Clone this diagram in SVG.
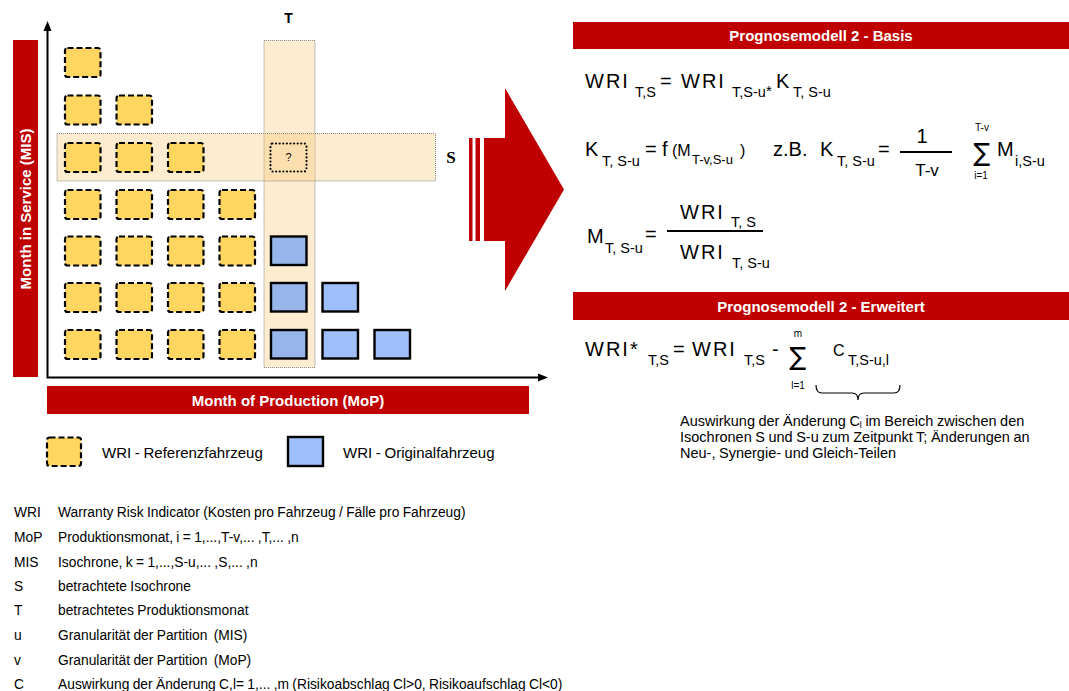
<svg xmlns="http://www.w3.org/2000/svg" width="1069" height="691" viewBox="0 0 1069 691">
  <style>
    text { font-family: "Liberation Sans", Arial, sans-serif; fill: #000; }
    .bar { fill: #C00000; }
    .barText { font-size: 15px; font-weight: bold; fill: #fff; }
    .ref { fill: #FFD760; stroke: #000; stroke-width: 2.2; stroke-dasharray: 6 3; }
    .orig { fill: #9EBFFA; stroke: #000; stroke-width: 2.4; }
    .origT { fill: #97B5EA; }
    .hl { fill: #F9C46E; fill-opacity: 0.33; stroke: #888; stroke-width: 1; stroke-dasharray: 1 1; }
    .axis { stroke: #000; stroke-width: 2; fill: none; }
    .m { font-size: 20px; }
    .w { letter-spacing: 2px; }
    .s { font-size: 14.5px; }
    .sum { font-family: "DejaVu Sans", sans-serif; font-size: 25px; }
    .lim { font-size: 10px; }
    .frac { stroke: #000; stroke-width: 2; }
    .note { font-size: 14.5px; word-spacing: -0.5px; }
    .leg { font-size: 15px; word-spacing: -0.5px; }
    .lst { font-size: 13.8px; word-spacing: -0.5px; }
  </style>

  <!-- axis captions -->
  <g id="axis-mis">
    <rect class="bar" x="13" y="40" width="25" height="337"/>
    <text class="barText" transform="translate(31,209) rotate(-90)" text-anchor="middle">Month in Service (MIS)</text>
  </g>
  <g id="axis-mop">
    <rect class="bar" x="47" y="386" width="482" height="28"/>
    <text class="barText" x="288" y="405.5" text-anchor="middle">Month of Production (MoP)</text>
  </g>

  <!-- highlighted production month T and isochrone S -->
  <g id="band-T">
    <rect class="hl" x="264" y="40.5" width="51" height="327"/>
    <text x="288.5" y="23" font-size="14" font-weight="bold" text-anchor="middle">T</text>
  </g>
  <g id="band-S">
    <rect class="hl" x="57" y="133.5" width="378.5" height="47.5"/>
    <text x="451" y="163" font-size="17" font-weight="bold" text-anchor="middle" style="font-family:'Liberation Serif','Times New Roman',serif">S</text>
  </g>

  <!-- axes -->
  <g id="axes">
    <path class="axis" d="M47.5,378 V30 M46.5,377.5 H540"/>
    <path d="M47.5,21 L43.5,31 L51.5,31 Z M548,377.5 L538,373.5 L538,381.5 Z" fill="#000"/>
  </g>

  <!-- reference vehicle cells -->
  <g id="ref-r1-c1"><rect class="ref" x="65" y="48" width="35.5" height="29" rx="2.5"/></g>
  <g id="ref-r2-c1"><rect class="ref" x="65" y="95.5" width="35.5" height="29" rx="2.5"/></g>
  <g id="ref-r2-c2"><rect class="ref" x="116.5" y="95.5" width="35.5" height="29" rx="2.5"/></g>
  <g id="ref-r3-c1"><rect class="ref" x="65" y="143" width="35.5" height="29" rx="2.5"/></g>
  <g id="ref-r3-c2"><rect class="ref" x="116.5" y="143" width="35.5" height="29" rx="2.5"/></g>
  <g id="ref-r3-c3"><rect class="ref" x="168" y="143" width="35.5" height="29" rx="2.5"/></g>
  <g id="ref-r4-c1"><rect class="ref" x="65" y="190" width="35.5" height="29" rx="2.5"/></g>
  <g id="ref-r4-c2"><rect class="ref" x="116.5" y="190" width="35.5" height="29" rx="2.5"/></g>
  <g id="ref-r4-c3"><rect class="ref" x="168" y="190" width="35.5" height="29" rx="2.5"/></g>
  <g id="ref-r4-c4"><rect class="ref" x="219.5" y="190" width="35.5" height="29" rx="2.5"/></g>
  <g id="ref-r5-c1"><rect class="ref" x="65" y="236.5" width="35.5" height="29" rx="2.5"/></g>
  <g id="ref-r5-c2"><rect class="ref" x="116.5" y="236.5" width="35.5" height="29" rx="2.5"/></g>
  <g id="ref-r5-c3"><rect class="ref" x="168" y="236.5" width="35.5" height="29" rx="2.5"/></g>
  <g id="ref-r5-c4"><rect class="ref" x="219.5" y="236.5" width="35.5" height="29" rx="2.5"/></g>
  <g id="ref-r6-c1"><rect class="ref" x="65" y="283" width="35.5" height="29" rx="2.5"/></g>
  <g id="ref-r6-c2"><rect class="ref" x="116.5" y="283" width="35.5" height="29" rx="2.5"/></g>
  <g id="ref-r6-c3"><rect class="ref" x="168" y="283" width="35.5" height="29" rx="2.5"/></g>
  <g id="ref-r6-c4"><rect class="ref" x="219.5" y="283" width="35.5" height="29" rx="2.5"/></g>
  <g id="ref-r7-c1"><rect class="ref" x="65" y="330" width="35.5" height="29" rx="2.5"/></g>
  <g id="ref-r7-c2"><rect class="ref" x="116.5" y="330" width="35.5" height="29" rx="2.5"/></g>
  <g id="ref-r7-c3"><rect class="ref" x="168" y="330" width="35.5" height="29" rx="2.5"/></g>
  <g id="ref-r7-c4"><rect class="ref" x="219.5" y="330" width="35.5" height="29" rx="2.5"/></g>

  <!-- cell to be forecast -->
  <g id="cell-unknown">
    <rect x="270.5" y="143.5" width="36" height="28" rx="2" fill="none" stroke="#000" stroke-width="2.2" stroke-linecap="round" stroke-dasharray="0 3.6"/>
    <text x="288.5" y="161" font-size="11" text-anchor="middle" fill="#333">?</text>
  </g>

  <!-- original vehicle cells -->
  <g id="orig-r5-c5"><rect class="orig origT" x="271" y="236.5" width="35.5" height="28.5"/></g>
  <g id="orig-r6-c5"><rect class="orig origT" x="271" y="283" width="35.5" height="28.5"/></g>
  <g id="orig-r7-c5"><rect class="orig origT" x="271" y="330" width="35.5" height="28.5"/></g>
  <g id="orig-r6-c6"><rect class="orig" x="322.5" y="283" width="35.5" height="28.5"/></g>
  <g id="orig-r7-c6"><rect class="orig" x="322.5" y="330" width="35.5" height="28.5"/></g>
  <g id="orig-r7-c7"><rect class="orig" x="374.5" y="330" width="35.5" height="28.5"/></g>

  <!-- big transition arrow -->
  <g id="arrow" fill="#C00000">
    <rect x="469" y="138" width="3.5" height="103"/>
    <rect x="475.5" y="138" width="4.5" height="103"/>
    <polygon points="484,138 505,138 505,88 564,189.5 505,291 505,241 484,241"/>
  </g>

  <!-- model 2: basis -->
  <g id="model-basis">
    <rect class="bar" x="573" y="22" width="496" height="27"/>
    <text class="barText" x="821" y="40.5" text-anchor="middle">Prognosemodell 2 - Basis</text>

    <text class="m w" x="585" y="88">WRI</text>
    <text class="s" x="635" y="97">T,S</text>
    <text class="m" x="660" y="88">=</text>
    <text class="m w" x="681" y="88">WRI</text>
    <text class="s" x="732" y="97">T,S-u</text>
    <text x="766" y="96" font-size="15">*</text>
    <text class="m" x="776" y="88">K</text>
    <text class="s" x="793" y="97">T, S-u</text>

    <text class="m" x="585" y="156">K</text>
    <text class="s" x="602" y="166">T, S-u</text>
    <text class="m" x="645" y="156">=</text>
    <text class="m" x="662" y="156">f</text>
    <text x="672" y="156" font-size="16">(M</text>
    <text x="692" y="164" font-size="13">T-v,S-u</text>
    <text x="740" y="156" font-size="16">)</text>
    <text class="m" x="773" y="156">z.B.</text>
    <text class="m" x="820" y="156">K</text>
    <text class="s" x="837" y="166">T, S-u</text>
    <text class="m" x="878" y="156">=</text>
    <line class="frac" x1="900" y1="152" x2="952" y2="152"/>
    <text class="m" x="922" y="143" text-anchor="middle">1</text>
    <text x="927" y="176" font-size="17" text-anchor="middle">T-v</text>
    <text class="sum" x="982" y="161" text-anchor="middle">∑</text>
    <text class="lim" x="982" y="131" text-anchor="middle">T-v</text>
    <text class="lim" x="981" y="179" text-anchor="middle">i=1</text>
    <text class="m" x="997" y="156">M</text>
    <text class="s" x="1015" y="166">i,S-u</text>

    <text class="m" x="587" y="243">M</text>
    <text class="s" x="605" y="253">T, S-u</text>
    <text class="m" x="645" y="241">=</text>
    <line class="frac" x1="667" y1="231" x2="763" y2="231"/>
    <text class="m w" x="680" y="219">WRI</text>
    <text class="s" x="731" y="227">T, S</text>
    <text class="m w" x="680" y="259">WRI</text>
    <text class="s" x="732" y="268">T, S-u</text>
  </g>

  <!-- model 2: extended -->
  <g id="model-extended">
    <rect class="bar" x="573" y="292" width="496" height="28"/>
    <text class="barText" x="821" y="311.5" text-anchor="middle">Prognosemodell 2 - Erweitert</text>

    <text class="m w" x="585" y="356">WRI*</text>
    <text class="s" x="648" y="365">T,S</text>
    <text class="m" x="673" y="356">=</text>
    <text class="m w" x="692" y="356">WRI</text>
    <text class="s" x="744" y="365">T,S</text>
    <text class="m" x="772" y="356">-</text>
    <text class="sum" x="798" y="365" text-anchor="middle">∑</text>
    <text class="lim" x="798" y="337" text-anchor="middle">m</text>
    <text class="lim" x="798" y="389" text-anchor="middle">l=1</text>
    <text x="833" y="356" font-size="16">C</text>
    <text class="s" x="848" y="365">T,S-u,l</text>
    <path d="M816,385 Q816,393 822,393 L852,393 Q858,393 858,400 Q858,393 864,393 L894,393 Q900,393 900,385" fill="none" stroke="#000" stroke-width="1.2"/>

    <text class="note" x="680" y="426">Auswirkung der Änderung C<tspan font-size="9" dy="2">l</tspan><tspan dy="-2"> im Bereich zwischen den</tspan></text>
    <text class="note" x="680" y="442">Isochronen S und S-u zum Zeitpunkt T; Änderungen an</text>
    <text class="note" x="680" y="458">Neu-, Synergie- und Gleich-Teilen</text>
  </g>

  <!-- legend -->
  <g id="legend-ref">
    <rect class="ref" x="47" y="437.5" width="34" height="28.5" rx="2.5"/>
    <text class="leg" x="102" y="458">WRI - Referenzfahrzeug</text>
  </g>
  <g id="legend-orig">
    <rect class="orig" x="288" y="437" width="35" height="29"/>
    <text class="leg" x="343" y="458">WRI - Originalfahrzeug</text>
  </g>

  <!-- symbol list -->
  <g id="symbols">
    <text class="lst" x="14" y="517">WRI</text>
    <text class="lst" x="58" y="517">Warranty Risk Indicator (Kosten pro Fahrzeug / Fälle pro Fahrzeug)</text>
    <text class="lst" x="14" y="542">MoP</text>
    <text class="lst" x="58" y="542">Produktionsmonat, i = 1,...,T-v,... ,T,... ,n</text>
    <text class="lst" x="14" y="567">MIS</text>
    <text class="lst" x="58" y="567">Isochrone, k = 1,...,S-u,... ,S,... ,n</text>
    <text class="lst" x="14" y="591">S</text>
    <text class="lst" x="58" y="591">betrachtete Isochrone</text>
    <text class="lst" x="14" y="615">T</text>
    <text class="lst" x="58" y="615">betrachtetes Produktionsmonat</text>
    <text class="lst" x="14" y="640">u</text>
    <text class="lst" x="58" y="640">Granularität der Partition <tspan dx="3">(MIS)</tspan></text>
    <text class="lst" x="14" y="665">v</text>
    <text class="lst" x="58" y="665">Granularität der Partition <tspan dx="3">(MoP)</tspan></text>
    <text class="lst" x="14" y="689">C</text>
    <text class="lst" x="58" y="689">Auswirkung der Änderung C,l= 1,... ,m (Risikoabschlag Cl&gt;0, Risikoaufschlag Cl&lt;0)</text>
  </g>
</svg>
